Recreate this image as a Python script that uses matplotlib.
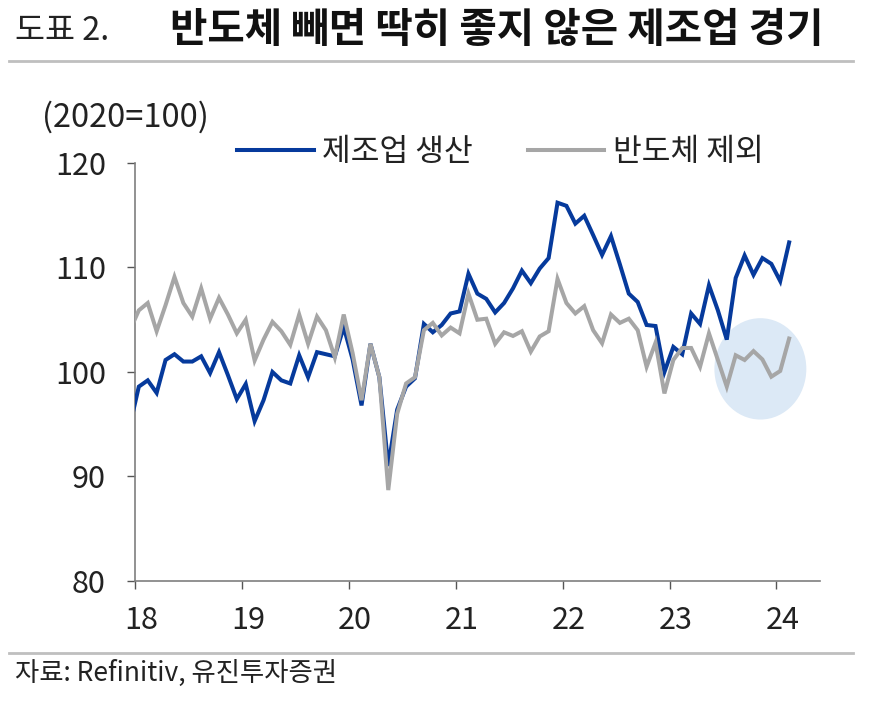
import numpy as np
import matplotlib
matplotlib.use('Agg')
import matplotlib.pyplot as plt
from matplotlib.patches import Ellipse
from matplotlib.lines import Line2D
from matplotlib.transforms import ScaledTranslation

plt.rcParams['font.family'] = ['Noto Sans CJK KR', 'DejaVu Sans']

# monthly, Dec 2017 .. Feb 2024 (first point sits left of the axis and is clipped)
start_year, start_month = 2017, 12
mfg = [94.9, 98.6, 99.2, 98.0, 101.15, 101.7, 101.0, 101.0, 101.5, 99.9, 101.9, 99.7, 97.4,
       98.85, 95.3, 97.3, 100.0, 99.2, 98.9, 101.6, 99.5, 101.9, 101.7, 101.5, 104.3,
       101.2, 96.8, 102.7, 99.5, 91.0, 96.4, 98.6, 99.4, 104.6, 103.8, 104.5, 105.6,
       105.8, 109.4, 107.5, 107.0, 105.7, 106.6, 108.0, 109.7, 108.5, 109.9, 110.9, 116.2,
       115.9, 114.2, 114.95, 113.1, 111.2, 113.0, 110.3, 107.5, 106.7, 104.5, 104.4, 100.0,
       102.4, 101.7, 105.6, 104.6, 108.3, 105.9, 103.1, 109.0, 111.15, 109.3, 110.9, 110.35,
       108.7, 112.4]
ex_semi = [104.0, 105.9, 106.6, 103.9, 106.4, 109.1, 106.6, 105.3, 108.0, 105.1, 107.1, 105.5, 103.7,
           105.0, 101.1, 103.1, 104.8, 103.9, 102.6, 105.5, 102.7, 105.3, 104.0, 101.4, 105.5,
           101.8, 97.3, 102.7, 99.5, 88.7, 96.0, 98.9, 99.5, 104.0, 104.7, 103.5, 104.25,
           103.7, 107.5, 105.0, 105.1, 102.7, 103.8, 103.45, 103.9, 101.95, 103.4, 103.9, 108.9,
           106.6, 105.6, 106.3, 104.0, 102.75, 105.5, 104.7, 105.1, 104.0, 100.5, 102.8, 97.95,
           101.15, 102.3, 102.3, 100.5, 103.7, 101.15, 98.6, 101.6, 101.15, 102.0, 101.2, 99.55,
           100.1, 103.2]
years = [2018, 2019, 2020, 2021, 2022, 2023, 2024]
year_labels = ['18', '19', '20', '21', '22', '23', '24']
y_ticks = [80, 90, 100, 110, 120]

n = len(mfg)
x = start_year + (start_month - 1 + np.arange(n) + 0.43) / 12.0

fig = plt.figure(figsize=(8.69, 7.01), dpi=100)
W, H = 869, 701
ax = fig.add_axes([135 / W, 1 - 581 / H, (820 - 135) / W, (581 - 163) / H])

# highlight circle over the recent ex-semiconductor months
ax.add_patch(Ellipse((2023.85, 100.3), 0.86, 9.7, facecolor='#dce9f6', edgecolor='none', zorder=1))

ax.plot(x, mfg, color='#063a9c', lw=2.9, label='제조업 생산', zorder=3, solid_joinstyle='miter')
ax.plot(x, ex_semi, color='#a6a6a6', lw=2.9, label='반도체 제외', zorder=4, solid_joinstyle='miter')

ax.set_xlim(2018, 2018 + (820 - 135) / 106.9)
ax.set_ylim(80, 120)
ax.set_xticks(years)
ax.set_xticklabels(year_labels)
ax.set_yticks(y_ticks)

for s in ['top', 'right']:
    ax.spines[s].set_visible(False)
for s in ['left', 'bottom']:
    ax.spines[s].set_color('#7f7f7f')
    ax.spines[s].set_linewidth(1.2)
ax.tick_params(axis='both', direction='out', length=6, width=1, color='#555555',
               labelsize=22, labelcolor='#222222')
ax.tick_params(axis='y', pad=15)
ax.tick_params(axis='x', pad=11)
for lab in ax.get_xticklabels():
    lab.set_transform(lab.get_transform() + ScaledTranslation(6 / 100, 0, fig.dpi_scale_trans))

leg = ax.legend(loc='center left', bbox_to_anchor=(237 / W, 1 - 152 / H), bbox_transform=fig.transFigure,
                ncol=2, frameon=False, fontsize=22.5, handlelength=2.45, handletextpad=0.28,
                columnspacing=1.75, borderpad=0, borderaxespad=0)
for t in leg.get_texts():
    t.set_color('#222222')

fig.text(42 / W, 1 - 117 / H, '(2020=100)', fontsize=23.5, color='#222222', va='center', ha='left')

# header
fig.text(15 / W, 1 - 31 / H, '도표 2.', fontsize=23.5, color='#222222', va='center', ha='left')
fig.text(170 / W, 1 - 31 / H, '반도체 빼면 딱히 좋지 않은 제조업 경기', fontsize=29.3,
         fontweight='bold', color='#111111', va='center', ha='left')
fig.add_artist(Line2D([9 / W, 853 / W], [1 - 61 / H] * 2, transform=fig.transFigure,
                      color='#bfbfbf', lw=2))

# footer
fig.add_artist(Line2D([9 / W, 853 / W], [1 - 653 / H] * 2, transform=fig.transFigure,
                      color='#bfbfbf', lw=2))
fig.text(15 / W, 1 - 673 / H, '자료: Refinitiv, 유진투자증권', fontsize=19, color='#222222',
         va='center', ha='left')

fig.savefig('out.png', dpi=100)
